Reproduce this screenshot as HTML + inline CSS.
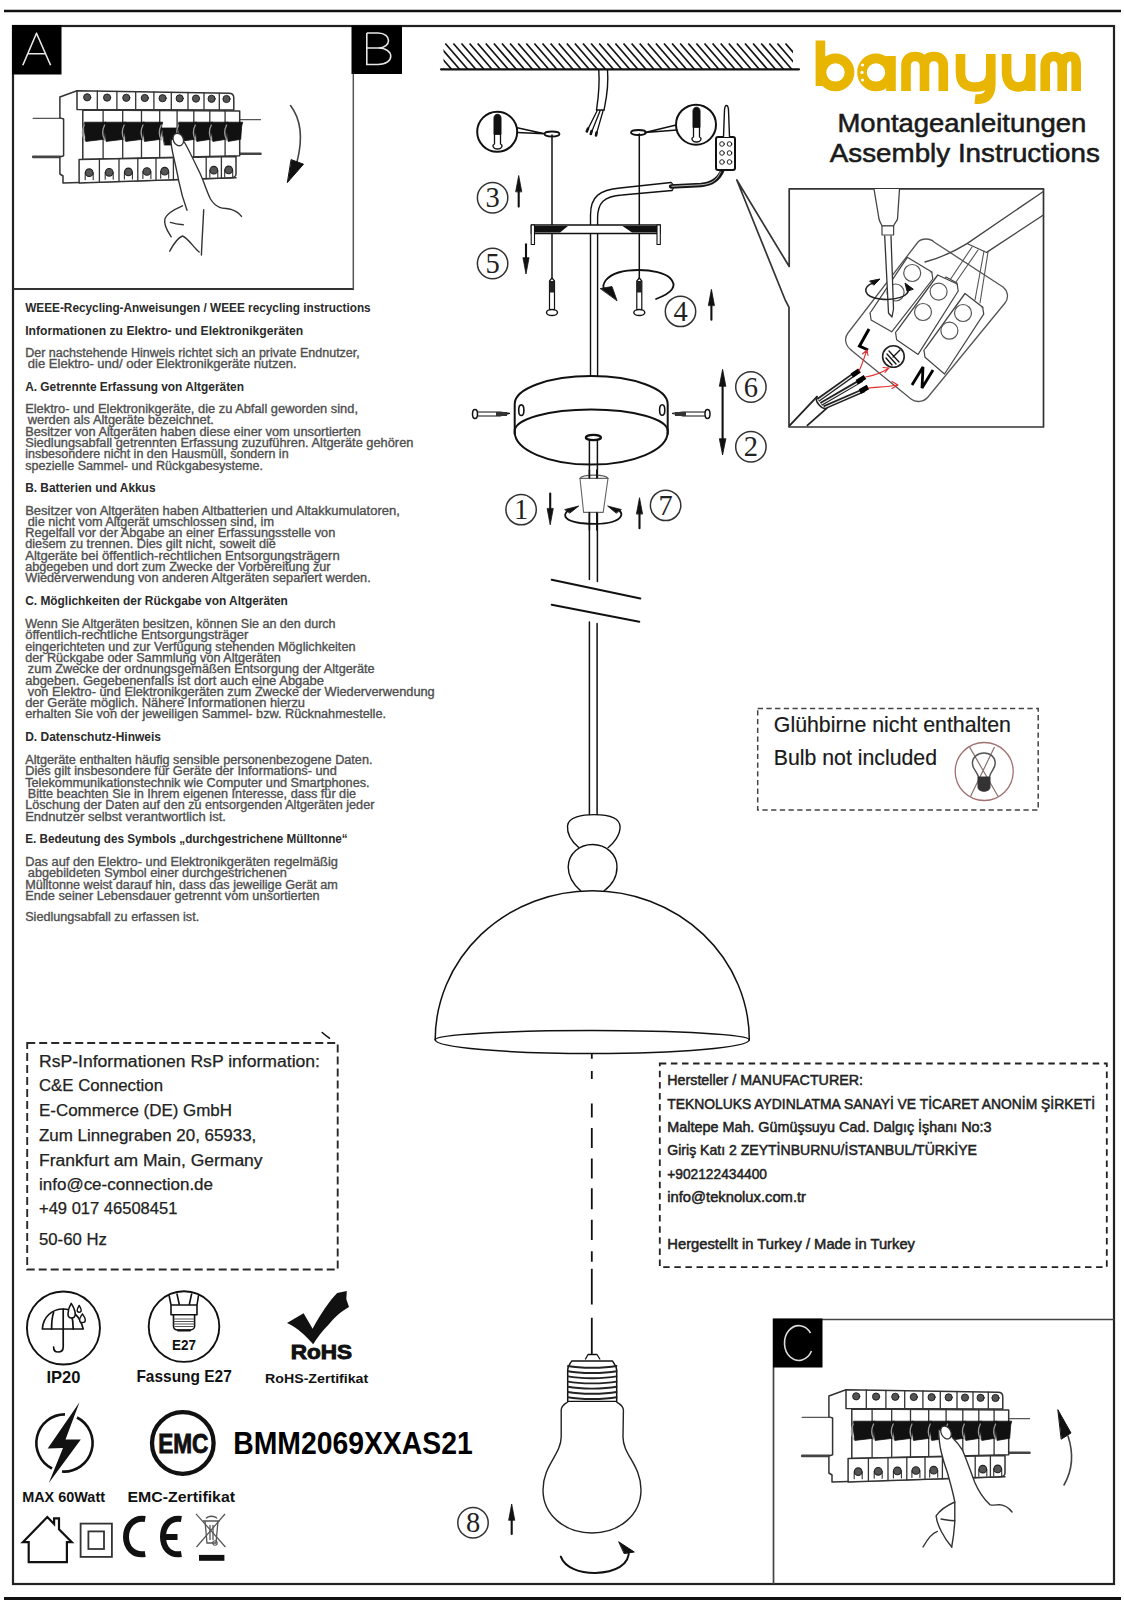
<!DOCTYPE html>
<html><head><meta charset="utf-8">
<style>
html,body{margin:0;padding:0;background:#fff;}
body{width:1124px;height:1600px;overflow:hidden;}
svg{display:block;}
</style></head><body>
<svg width="1124" height="1600" viewBox="0 0 1124 1600" font-family="'Liberation Sans', sans-serif">
<rect x="0" y="0" width="1124" height="1600" fill="#fff"/>
<!-- page lines -->
<line x1="4" y1="11" x2="1121" y2="11" stroke="#111" stroke-width="2.6"/>
<line x1="4" y1="1598.8" x2="1121" y2="1598.8" stroke="#111" stroke-width="3.6"/>
<!-- frame -->
<rect x="13" y="26" width="1101" height="1558" fill="none" stroke="#222" stroke-width="2.2"/>
<!-- box A -->
<polyline points="13,289 354,289" fill="none" stroke="#333" stroke-width="2"/><line x1="353.3" y1="74" x2="353.3" y2="289" stroke="#555" stroke-width="1.5"/>
<!-- box C -->
<polyline points="773.5,1584 773.5,1319.5 1114,1319.5" fill="none" stroke="#444" stroke-width="1.7"/>
<!-- labels -->
<g id="labels">
<rect x="12" y="25" width="49.5" height="49.5" fill="#000"/>
<path d="M22.8,65.2 L36.5,33.2 L50.6,65.2 M27.7,53.8 L45.6,53.8" fill="none" stroke="#e6e6e6" stroke-width="1.6" stroke-linejoin="round"/>
<rect x="351.5" y="25.5" width="50.5" height="48.5" fill="#000"/>
<path d="M366.8,33 L366.8,64.5 L378,64.5 C395,64.5 395,48 378,48 L366.8,48 M378,48 C392,48 392,33 378,33 L366.8,33" fill="none" stroke="#e6e6e6" stroke-width="1.6"/>
<rect x="773" y="1318.5" width="49.5" height="49" fill="#000"/>
<path d="M810.5,1333 A14.3,17.4 0 1 0 811.5,1351" fill="none" stroke="#ddd" stroke-width="1.6"/>
</g>
<g id="weee" font-size="12" fill="#505050" stroke="#505050" stroke-width="0.35">
<text x="25.2" y="311.5" textLength="345.5" lengthAdjust="spacingAndGlyphs" font-weight="bold" fill="#2a2a2a" stroke="none">WEEE-Recycling-Anweisungen / WEEE recycling instructions</text>
<text x="25.2" y="334.5" textLength="278.0" lengthAdjust="spacingAndGlyphs" font-weight="bold" fill="#2a2a2a" stroke="none">Informationen zu Elektro- und Elektronikgeräten</text>
<text x="25.2" y="357" textLength="334.6" lengthAdjust="spacingAndGlyphs">Der nachstehende Hinweis richtet sich an private Endnutzer,</text>
<text x="27.8" y="368" textLength="268.8" lengthAdjust="spacingAndGlyphs">die Elektro- und/ oder Elektronikgeräte nutzen.</text>
<text x="25.2" y="390.5" textLength="218.8" lengthAdjust="spacingAndGlyphs" font-weight="bold" fill="#2a2a2a" stroke="none">A. Getrennte Erfassung von Altgeräten</text>
<text x="25.2" y="413" textLength="332.8" lengthAdjust="spacingAndGlyphs">Elektro- und Elektronikgeräte, die zu Abfall geworden sind,</text>
<text x="27.8" y="424.3" textLength="186.0" lengthAdjust="spacingAndGlyphs">werden als Altgeräte bezeichnet.</text>
<text x="25.2" y="435.6" textLength="335.7" lengthAdjust="spacingAndGlyphs">Besitzer von Altgeräten haben diese einer vom unsortierten</text>
<text x="25.2" y="446.9" textLength="388.2" lengthAdjust="spacingAndGlyphs">Siedlungsabfall getrennten Erfassung zuzuführen. Altgeräte gehören</text>
<text x="25.2" y="458.2" textLength="263.4" lengthAdjust="spacingAndGlyphs">insbesondere nicht in den Hausmüll, sondern in</text>
<text x="25.2" y="469.5" textLength="237.8" lengthAdjust="spacingAndGlyphs">spezielle Sammel- und Rückgabesysteme.</text>
<text x="25.2" y="491.5" textLength="130.3" lengthAdjust="spacingAndGlyphs" font-weight="bold" fill="#2a2a2a" stroke="none">B. Batterien und Akkus</text>
<text x="25.2" y="514.5" textLength="374.7" lengthAdjust="spacingAndGlyphs">Besitzer von Altgeräten haben Altbatterien und Altakkumulatoren,</text>
<text x="27.8" y="525.8" textLength="246.2" lengthAdjust="spacingAndGlyphs">die nicht vom Altgerät umschlossen sind, im</text>
<text x="25.2" y="537.1" textLength="310.1" lengthAdjust="spacingAndGlyphs">Regelfall vor der Abgabe an einer Erfassungsstelle von</text>
<text x="25.2" y="548.4" textLength="250.7" lengthAdjust="spacingAndGlyphs">diesem zu trennen. Dies gilt nicht, soweit die</text>
<text x="25.2" y="559.7" textLength="314.5" lengthAdjust="spacingAndGlyphs">Altgeräte bei öffentlich-rechtlichen Entsorgungsträgern</text>
<text x="25.2" y="571" textLength="305.4" lengthAdjust="spacingAndGlyphs">abgegeben und dort zum Zwecke der Vorbereitung zur</text>
<text x="25.2" y="582.3" textLength="345.5" lengthAdjust="spacingAndGlyphs">Wiederverwendung von anderen Altgeräten separiert werden.</text>
<text x="25.2" y="605" textLength="262.7" lengthAdjust="spacingAndGlyphs" font-weight="bold" fill="#2a2a2a" stroke="none">C. Möglichkeiten der Rückgabe von Altgeräten</text>
<text x="25.2" y="628" textLength="310.4" lengthAdjust="spacingAndGlyphs">Wenn Sie Altgeräten besitzen, können Sie an den durch</text>
<text x="25.2" y="639.3" textLength="223.2" lengthAdjust="spacingAndGlyphs">öffentlich-rechtliche Entsorgungsträger</text>
<text x="25.2" y="650.6" textLength="330.3" lengthAdjust="spacingAndGlyphs">eingerichteten und zur Verfügung stehenden Möglichkeiten</text>
<text x="25.2" y="661.9" textLength="255.7" lengthAdjust="spacingAndGlyphs">der Rückgabe oder Sammlung von Altgeräten</text>
<text x="27.8" y="673.2" textLength="346.8" lengthAdjust="spacingAndGlyphs">zum Zwecke der ordnungsgemäßen Entsorgung der Altgeräte</text>
<text x="25.2" y="684.5" textLength="298.8" lengthAdjust="spacingAndGlyphs">abgeben. Gegebenenfalls ist dort auch eine Abgabe</text>
<text x="27.8" y="695.8" textLength="406.9" lengthAdjust="spacingAndGlyphs">von Elektro- und Elektronikgeräten zum Zwecke der Wiederverwendung</text>
<text x="25.2" y="707.1" textLength="279.8" lengthAdjust="spacingAndGlyphs">der Geräte möglich. Nähere Informationen hierzu</text>
<text x="25.2" y="718.4" textLength="360.8" lengthAdjust="spacingAndGlyphs">erhalten Sie von der jeweiligen Sammel- bzw. Rücknahmestelle.</text>
<text x="25.2" y="741" textLength="135.8" lengthAdjust="spacingAndGlyphs" font-weight="bold" fill="#2a2a2a" stroke="none">D. Datenschutz-Hinweis</text>
<text x="25.2" y="764" textLength="347.3" lengthAdjust="spacingAndGlyphs">Altgeräte enthalten häufig sensible personenbezogene Daten.</text>
<text x="25.2" y="775.3" textLength="311.6" lengthAdjust="spacingAndGlyphs">Dies gilt insbesondere für Geräte der Informations- und</text>
<text x="25.2" y="786.6" textLength="344.4" lengthAdjust="spacingAndGlyphs">Telekommunikationstechnik wie Computer und Smartphones.</text>
<text x="27.8" y="797.9" textLength="328.2" lengthAdjust="spacingAndGlyphs">Bitte beachten Sie in Ihrem eigenen Interesse, dass für die</text>
<text x="25.2" y="809.2" textLength="349.2" lengthAdjust="spacingAndGlyphs">Löschung der Daten auf den zu entsorgenden Altgeräten jeder</text>
<text x="25.2" y="820.5" textLength="200.7" lengthAdjust="spacingAndGlyphs">Endnutzer selbst verantwortlich ist.</text>
<text x="25.2" y="843" textLength="322.5" lengthAdjust="spacingAndGlyphs" font-weight="bold" fill="#2a2a2a" stroke="none">E. Bedeutung des Symbols „durchgestrichene Mülltonne“</text>
<text x="25.2" y="866" textLength="312.7" lengthAdjust="spacingAndGlyphs">Das auf den Elektro- und Elektronikgeräten regelmäßig</text>
<text x="27.8" y="877.3" textLength="259.0" lengthAdjust="spacingAndGlyphs">abgebildeten Symbol einer durchgestrichenen</text>
<text x="25.2" y="888.6" textLength="312.7" lengthAdjust="spacingAndGlyphs">Mülltonne weist darauf hin, dass das jeweilige Gerät am</text>
<text x="25.2" y="899.9" textLength="294.4" lengthAdjust="spacingAndGlyphs">Ende seiner Lebensdauer getrennt vom unsortierten</text>
<text x="25.2" y="921" textLength="174.0" lengthAdjust="spacingAndGlyphs">Siedlungsabfall zu erfassen ist.</text>
</g><g id="title" fill="#1a1a1a" stroke="#1a1a1a" stroke-width="0.55">
<text x="837.5" y="132.1" font-size="26.5" textLength="248.8" lengthAdjust="spacingAndGlyphs">Montageanleitungen</text>
<text x="829.8" y="161.8" font-size="26.5" textLength="270.1" lengthAdjust="spacingAndGlyphs">Assembly Instructions</text>
</g>
<rect x="27.2" y="1043" width="310.5" height="226.5" fill="none" stroke="#2a2a2a" stroke-width="1.9" stroke-dasharray="8 4"/>
<g id="rsp" font-size="16" fill="#222" stroke="#222" stroke-width="0.25">
<text x="39" y="1066.5" textLength="281.0" lengthAdjust="spacingAndGlyphs">RsP-Informationen RsP information:</text>
<text x="39" y="1091" textLength="124.0" lengthAdjust="spacingAndGlyphs">C&amp;E Connection</text>
<text x="39" y="1115.5" textLength="193.0" lengthAdjust="spacingAndGlyphs">E-Commerce (DE) GmbH</text>
<text x="39" y="1141.2" textLength="217.3" lengthAdjust="spacingAndGlyphs">Zum Linnegraben 20, 65933,</text>
<text x="39" y="1165.5" textLength="223.6" lengthAdjust="spacingAndGlyphs">Frankfurt am Main, Germany</text>
<text x="39" y="1189.8" textLength="174.0" lengthAdjust="spacingAndGlyphs">info@ce-connection.de</text>
<text x="39" y="1214" textLength="138.4" lengthAdjust="spacingAndGlyphs">+49 017 46508451</text>
<text x="39" y="1244.7" textLength="67.8" lengthAdjust="spacingAndGlyphs">50-60 Hz</text>
</g>
<rect x="757.7" y="708.5" width="280.5" height="101.5" fill="none" stroke="#444" stroke-width="1.5" stroke-dasharray="5.3 3.4"/>
<g id="bulbtxt" font-size="21.5" fill="#1a1a1a" stroke="#1a1a1a" stroke-width="0.2">
<text x="773.8" y="731.5" textLength="237.2" lengthAdjust="spacingAndGlyphs">Glühbirne nicht enthalten</text>
<text x="773.8" y="765.4" textLength="163.2" lengthAdjust="spacingAndGlyphs">Bulb not included</text>
</g>
<rect x="659.8" y="1063.5" width="447" height="203.7" fill="none" stroke="#222" stroke-width="1.8" stroke-dasharray="6.5 4.6"/>
<g id="her" font-size="14.5" fill="#222" stroke="#222" stroke-width="0.5">
<text x="667.3" y="1085" textLength="195.7" lengthAdjust="spacingAndGlyphs">Hersteller / MANUFACTURER:</text>
<text x="667.3" y="1108.8" textLength="427.7" lengthAdjust="spacingAndGlyphs">TEKNOLUKS AYDINLATMA SANAYİ VE TİCARET ANONİM ŞİRKETİ</text>
<text x="667.3" y="1132" textLength="324.3" lengthAdjust="spacingAndGlyphs">Maltepe Mah. Gümüşsuyu Cad. Dalgıç İşhanı No:3</text>
<text x="667.3" y="1155.3" textLength="309.7" lengthAdjust="spacingAndGlyphs">Giriş Katı 2 ZEYTİNBURNU/İSTANBUL/TÜRKİYE</text>
<text x="667.3" y="1178.6" textLength="99.7" lengthAdjust="spacingAndGlyphs">+902122434400</text>
<text x="667.3" y="1202" textLength="138.7" lengthAdjust="spacingAndGlyphs">info@teknolux.com.tr</text>
<text x="667.3" y="1248.8" textLength="247.7" lengthAdjust="spacingAndGlyphs">Hergestellt in Turkey / Made in Turkey</text>
</g>
<text x="233.2" y="1454.4" font-size="31.5" font-weight="bold" fill="#000" textLength="239.5" lengthAdjust="spacingAndGlyphs">BMM2069XXAS21</text>
<path d="M322.2,1032.5 C325,1035 327,1036.5 329.4,1038.2" fill="none" stroke="#111" stroke-width="1.6" stroke-linecap="round"/>
<g id="lamp" fill="none" stroke="#111" stroke-linecap="round" stroke-linejoin="round">
<clipPath id="hc"><rect x="443.5" y="42" width="349.5" height="27.3"/></clipPath>
<path clip-path="url(#hc)" d="M421.0,43.5 L443.4,69.3 M429.1,43.5 L451.5,69.3 M437.2,43.5 L459.6,69.3 M445.3,43.5 L467.7,69.3 M453.4,43.5 L475.8,69.3 M461.5,43.5 L483.9,69.3 M469.6,43.5 L492.0,69.3 M477.7,43.5 L500.1,69.3 M485.8,43.5 L508.2,69.3 M493.9,43.5 L516.3,69.3 M502.0,43.5 L524.4,69.3 M510.1,43.5 L532.5,69.3 M518.2,43.5 L540.6,69.3 M526.3,43.5 L548.7,69.3 M534.4,43.5 L556.8,69.3 M542.5,43.5 L564.9,69.3 M550.6,43.5 L573.0,69.3 M558.7,43.5 L581.1,69.3 M566.8,43.5 L589.2,69.3 M574.9,43.5 L597.3,69.3 M583.0,43.5 L605.4,69.3 M591.1,43.5 L613.5,69.3 M599.2,43.5 L621.6,69.3 M607.3,43.5 L629.7,69.3 M615.4,43.5 L637.8,69.3 M623.5,43.5 L645.9,69.3 M631.6,43.5 L654.0,69.3 M639.7,43.5 L662.1,69.3 M647.8,43.5 L670.2,69.3 M655.9,43.5 L678.3,69.3 M664.0,43.5 L686.4,69.3 M672.1,43.5 L694.5,69.3 M680.2,43.5 L702.6,69.3 M688.3,43.5 L710.7,69.3 M696.4,43.5 L718.8,69.3 M704.5,43.5 L726.9,69.3 M712.6,43.5 L735.0,69.3 M720.7,43.5 L743.1,69.3 M728.8,43.5 L751.2,69.3 M736.9,43.5 L759.3,69.3 M745.0,43.5 L767.4,69.3 M753.1,43.5 L775.5,69.3 M761.2,43.5 L783.6,69.3 M769.3,43.5 L791.7,69.3 M777.4,43.5 L799.8,69.3 M785.5,43.5 L807.9,69.3 M793.6,43.5 L816.0,69.3" stroke-width="1.75" stroke="#151515" stroke-linecap="butt"/>
<line x1="441" y1="69.3" x2="799" y2="69.3" stroke-width="2.2"/>
<path d="M598.8,70 C600,88 598,100 596.5,110 M607.5,70 C609,88 606,100 604,110" stroke-width="1.4"/>
<path d="M596.5,110 L604,110 M597,111 L586.8,131.4 M600,111 L590.8,134 M603,111 L596,135.4" stroke-width="1.3"/>
<path d="M588,128.5 L586.8,131.4 M591.6,131 L590.8,134 M596.6,132.5 L596,135.4" stroke-width="2.6"/>
<circle cx="497.2" cy="131.8" r="20" stroke-width="2"/>
<path d="M517.2,127.8 L544.5,133.8 L517.2,132.6" stroke-width="1.5"/>
<path d="M494,134 L494,118 C494,113 501,113 501,118 L501,134 Z" fill="#111" stroke-width="1"/>
<path d="M494.5,134 L494.5,144 C492,145 492.5,149 497.5,149 C502.5,149 503,145 500.5,144 L500.5,134" stroke-width="1.3"/>
<ellipse cx="552" cy="134" rx="7.5" ry="2.5" stroke-width="1.8"/>
<line x1="552" y1="135" x2="552" y2="281" stroke-width="1.5"/>
<circle cx="696" cy="124.7" r="20" stroke-width="2"/>
<path d="M676.2,125 L645,132.5 L677,130" stroke-width="1.5"/>
<path d="M693,127 L693,111 C693,106 700,106 700,111 L700,127 Z" fill="#111" stroke-width="1"/>
<path d="M693.5,127 L693.5,137 C691,138 691.5,142 696.5,142 C701.5,142 702,138 699.5,137 L699.5,127" stroke-width="1.3"/>
<ellipse cx="638.5" cy="132.5" rx="7.5" ry="2.5" stroke-width="1.8"/>
<line x1="639.3" y1="134" x2="639.3" y2="281" stroke-width="1.5"/>
<path d="M590.5,376 L590.5,215 C590.5,196 600,190 620,188 L671,182.5" stroke-width="1.4"/>
<path d="M597.6,376 L597.6,218 C597.6,203 604,196 622,195 L672,190.5" stroke-width="1.4"/>
<path d="M671,182.5 C674,184 674,189 672,190.5" stroke-width="1.2"/>
<path d="M671,186.5 L701,185 C713,184 719,179 722.5,170" stroke-width="4.4" stroke="#151515"/><path d="M672,186.3 L701,184.8 C712,184 717,180 720.5,172" stroke-width="0.9" stroke="#ccc"/>
<rect x="716" y="137" width="19" height="33" rx="2" fill="#fff" stroke-width="2"/>
<circle cx="722" cy="144" r="2.3" stroke-width="0.9"/>
<circle cx="729.5" cy="144" r="2.3" stroke-width="0.9"/>
<circle cx="722" cy="153" r="2.3" stroke-width="0.9"/>
<circle cx="729.5" cy="153" r="2.3" stroke-width="0.9"/>
<circle cx="722" cy="162" r="2.3" stroke-width="0.9"/>
<circle cx="729.5" cy="162" r="2.3" stroke-width="0.9"/>
<path d="M723.5,137 L724.5,110 C725,104 728,104 728.5,110 L729.5,137" fill="#fff" stroke-width="1.4"/>
<rect x="531.4" y="225" width="128.8" height="8.5" fill="#fff" stroke-width="1.6"/>
<path d="M534,226 L568,226 L560,232.5 L534,232.5 Z M657.5,226 L622.5,226 L632,232.5 L657.5,232.5 Z" fill="#111" stroke="none"/>
<rect x="531.2" y="225" width="3.3" height="19.5" fill="#fff" stroke-width="1.1"/>
<rect x="657" y="225" width="3.3" height="19.5" fill="#fff" stroke-width="1.1"/>
<path d="M549.5,309.5 L549.5,281 L552,278 L554.5,281 L554.5,309.5" fill="#fff" stroke-width="1.2"/>
<rect x="549.5" y="281" width="5" height="11.5" fill="#222" stroke="none"/>
<ellipse cx="552" cy="312.5" rx="5.5" ry="3" fill="#fff" stroke-width="1.4"/>
<path d="M636.8,309.5 L636.8,281 L639.3,278 L641.8,281 L641.8,309.5" fill="#fff" stroke-width="1.2"/>
<rect x="636.8" y="281" width="5" height="11.5" fill="#222" stroke="none"/>
<ellipse cx="639.3" cy="312.5" rx="5.5" ry="3" fill="#fff" stroke-width="1.4"/>
<path d="M656,299 C672,293 678,286 670,278 C660,268 618,266 606,280 C603,284 603,287 604,289" stroke-width="1.8"/>
<path d="M600.5,288.5 L612,286.5 L617,300.5 Z" fill="#111" stroke-width="0.8"/>
<line x1="518.7" y1="190.5" x2="518.7" y2="206.6" stroke-width="2.1"/><path d="M515.7,191.5 L518.7,175.5 L521.7,191.5 Z" fill="#111" stroke-width="0.8"/>
<line x1="526" y1="244.4" x2="526" y2="259" stroke-width="2.1"/><path d="M523,258 L526,274 L529,258 Z" fill="#111" stroke-width="0.8"/>
<line x1="711.4" y1="304.3" x2="711.4" y2="319.8" stroke-width="2.1"/><path d="M708.4,305.3 L711.4,289.3 L714.4,305.3 Z" fill="#111" stroke-width="0.8"/>
<line x1="550.2" y1="493.5" x2="550.2" y2="509.79999999999995" stroke-width="2.1"/><path d="M547.2,508.79999999999995 L550.2,524.8 L553.2,508.79999999999995 Z" fill="#111" stroke-width="0.8"/>
<line x1="639.5" y1="512.7" x2="639.5" y2="528.2" stroke-width="2.1"/><path d="M636.5,513.7 L639.5,497.7 L642.5,513.7 Z" fill="#111" stroke-width="0.8"/>
<line x1="511.7" y1="1519" x2="511.7" y2="1534" stroke-width="2.1"/><path d="M508.7,1520 L511.7,1504 L514.7,1520 Z" fill="#111" stroke-width="0.8"/>
<line x1="722.6" y1="384" x2="722.6" y2="441" stroke-width="2.1"/><path d="M719.4,386 L722.6,369.3 L725.8,386 Z M719.4,439 L722.6,455 L725.8,439 Z" fill="#111" stroke-width="0.8"/>
<circle cx="492.6" cy="197.7" r="15.2" stroke-width="1.5" stroke="#333"/>
<text x="492.6" y="207.29999999999998" font-family="'Liberation Serif', serif" font-size="28.5" text-anchor="middle" fill="#222" stroke="none">3</text>
<circle cx="492.6" cy="263.5" r="15.2" stroke-width="1.5" stroke="#333"/>
<text x="492.6" y="273.1" font-family="'Liberation Serif', serif" font-size="28.5" text-anchor="middle" fill="#222" stroke="none">5</text>
<circle cx="680.5" cy="311.4" r="15.2" stroke-width="1.5" stroke="#333"/>
<text x="680.5" y="321.0" font-family="'Liberation Serif', serif" font-size="28.5" text-anchor="middle" fill="#222" stroke="none">4</text>
<circle cx="750.9" cy="387" r="15.2" stroke-width="1.5" stroke="#333"/>
<text x="750.9" y="396.6" font-family="'Liberation Serif', serif" font-size="28.5" text-anchor="middle" fill="#222" stroke="none">6</text>
<circle cx="750.9" cy="446.8" r="15.2" stroke-width="1.5" stroke="#333"/>
<text x="750.9" y="456.40000000000003" font-family="'Liberation Serif', serif" font-size="28.5" text-anchor="middle" fill="#222" stroke="none">2</text>
<circle cx="521.1" cy="509.6" r="15.2" stroke-width="1.5" stroke="#333"/>
<text x="521.1" y="519.2" font-family="'Liberation Serif', serif" font-size="28.5" text-anchor="middle" fill="#222" stroke="none">1</text>
<circle cx="665.6" cy="505.4" r="15.2" stroke-width="1.5" stroke="#333"/>
<text x="665.6" y="515.0" font-family="'Liberation Serif', serif" font-size="28.5" text-anchor="middle" fill="#222" stroke="none">7</text>
<circle cx="473" cy="1522.8" r="15.2" stroke-width="1.5" stroke="#333"/>
<text x="473" y="1532.3999999999999" font-family="'Liberation Serif', serif" font-size="28.5" text-anchor="middle" fill="#222" stroke="none">8</text>
</g>
<g id="lamp2" fill="none" stroke="#111" stroke-linecap="round" stroke-linejoin="round">
<path d="M514.7,434 L514.7,404 A76.5,28 0 0 1 667.7,404 L667.7,434" fill="#fff" stroke-width="2"/>
<path d="M514.7,431 A76.5,21.6 0 0 1 667.7,431" stroke-width="2"/>
<path d="M514.7,432 A76.5,32.6 0 0 0 667.7,432" stroke-width="2"/>
<ellipse cx="521.3" cy="410.2" rx="2.6" ry="5.3" stroke-width="1.6"/>
<ellipse cx="662.2" cy="410" rx="2.6" ry="5.3" stroke-width="1.6"/>
<path d="M477,412 L500,412 L509.5,413.3 L500,416 L477,416" fill="#fff" stroke-width="1.2"/>
<rect x="496" y="412" width="11" height="4" fill="#333" stroke="none"/>
<ellipse cx="475" cy="414" rx="2.5" ry="4.5" fill="#fff" stroke-width="1.5"/>
<path d="M706,412 L683,412 L672.5,413.3 L683,416 L706,416" fill="#fff" stroke-width="1.2"/>
<rect x="675" y="412" width="11" height="4" fill="#333" stroke="none"/>
<ellipse cx="707.5" cy="414" rx="2.5" ry="4.5" fill="#fff" stroke-width="1.5"/>
<path d="M589.4,437 L589.4,579.5 M597.4,437 L597.4,581.5" stroke-width="1.5"/>
<ellipse cx="593.4" cy="437.5" rx="7.5" ry="2.6" fill="#fff" stroke-width="2.4"/>
<path d="M580,478.4 L583.6,512.4 L603.2,512.4 L608,478.4 Z" fill="#fff" stroke="#666" stroke-width="1.1"/>
<path d="M580,478.4 C582,474 606,474 608,478.4" stroke="#555" stroke-width="1.1"/>
<path d="M589.4,478 L589.4,470 M596.8,478 L596.8,470" stroke-width="1.5"/>
<path d="M589.4,512.5 L589.4,530 M596.8,512.5 L596.8,530" stroke-width="1.5"/>
<path d="M567.5,511 C562,516 566,521 580,523 C590,524 605,524 612,522 C622,519 623,514 619.5,510.5" stroke-width="1.8"/>
<path d="M565,509.5 L578.8,506 L570,513 Z M621,509.5 L607.6,506 L616,513 Z" fill="#111" stroke-width="0.8"/>
<path d="M551.7,579.8 L640.4,598.6 M551.7,604.8 L639.3,621.7" stroke-width="2"/>
<path d="M589.4,622 L589.4,814.6 M597.1,623.5 L597.1,814.6" stroke-width="1.5"/>
<path d="M578.5,847.3 C570,840 567,833 567.5,826 C568,817 583,814.6 594,814.6 C606,814.6 620,817 620.1,827 C620,835 614,843 608,847.7" stroke-width="1.4"/>
<path d="M580.6,890.7 C573,884 568.2,876 568.2,867 C568.5,853 580,844.5 592.5,844.5 C606,844.5 617,854 617,867 C617,877 612,885 604.1,890.7" stroke-width="1.4"/>
<path d="M435.2,1039.8 A157,149 0 0 1 749.3,1039.8" stroke-width="1.5"/>
<path d="M435.2,1039.8 A157,9.2 0 0 1 749.3,1039.8" stroke-width="1.5"/>
<path d="M435.2,1039.8 A157,13.8 0 0 0 749.3,1039.8" stroke-width="1.5"/>
<path d="M591.8,1053.5 L591.8,1058.8 M591.8,1071 L591.8,1078.9 M591.8,1103.4 L591.8,1117.4 M591.8,1127.9 L591.8,1148 M591.8,1158.5 L591.8,1178.6 M591.8,1188.3 L591.8,1209.3 M591.8,1219.8 L591.8,1239.9 M591.8,1251.3 L591.8,1261.8 M591.8,1268.8 L591.8,1304.6 M591.8,1317.8 L591.8,1354" stroke-width="1.8" stroke-linecap="butt"/>
<path d="M585.5,1359 L588,1354.5 L597,1354.5 L599.8,1359" fill="#fff" stroke-width="1.3"/>
<path d="M571.7,1361 L612.5,1361 C614,1364 616.7,1366 616.7,1370 L616.7,1401.5 L567.7,1401.5 L567.7,1370 C567.7,1366 570,1364 571.7,1361 Z" fill="#fff" stroke-width="1.5"/>
<path d="M568,1366.0 C580,1368.4 604,1368.4 616.5,1366.0 M568,1371.2 C580,1373.6 604,1373.6 616.5,1371.2 M568,1376.4 C580,1378.8 604,1378.8 616.5,1376.4 M568,1381.6 C580,1384.0 604,1384.0 616.5,1381.6 M568,1386.8 C580,1389.2 604,1389.2 616.5,1386.8 M568,1392.0 C580,1394.4 604,1394.4 616.5,1392.0 M568,1397.2 C580,1399.6 604,1399.6 616.5,1397.2" stroke-width="1.9" stroke="#222"/>
<path d="M567.7,1402 C565,1404 561.5,1405 561.2,1410 L561.2,1437 C561,1455 543,1465 543,1490 C543,1515 565,1533 592,1533 C619,1533 641,1515 641,1490 C641,1465 623,1455 623,1437 L623.4,1410 C623,1405 619,1404 616.7,1402" fill="#fff" stroke-width="1.4" stroke="#222"/>
<path d="M560.8,1556.6 C565,1568 580,1573 595.3,1572.9 C615,1572.5 630,1565 628.8,1550" stroke-width="2"/>
<path d="M619,1542 L634.3,1552 L624.5,1553.5 Z" fill="#111" stroke-width="1"/>
</g>
<g id="conn" fill="none" stroke="#222" stroke-linecap="round" stroke-linejoin="round">
<path d="M789,307.3 L789,427 L1043.5,427 L1043.5,188.8 L789.2,188.8 L789.2,266.5 L736.8,180 L784.9,299.3 L789,307.3" stroke="#333" stroke-width="1.7"/>
<path d="M918,242 C922,238 930,238 934,242 L1003,287 C1008,291 1009,298 1005,303 L928,397 C924,402 916,403 911,399 L851,350 C845,345 844,338 848,333 Z" fill="#fff" stroke="#555" stroke-width="1.3"/>
<path d="M1043,191.7 L967,243.6 C955,251 940,258 925,262 M1043,215.2 L986.6,252.4" stroke="#444" stroke-width="1.3"/>
<path d="M967,243.6 L986.6,252.4" stroke="#444" stroke-width="1.1"/>
<path d="M972,247 L950,280 M978,250 L956,282 M984,251 L975,300 M988,252 L980,303" stroke="#555" stroke-width="1.1"/>
<path d="M946,277 L957,283 L953,289 L942,283 Z" fill="#fff" stroke="#444" stroke-width="1.1"/>
<polygon points="907.3,257.3 931.8,272 890.7,324.8 870.1,313" fill="#fff" stroke="#444" stroke-width="1.3"/>
<path d="M870.1,313 L871.1,320 L891.7,331.8 L932.8,279 L931.8,272" fill="#fff" stroke="#444" stroke-width="1.2"/>
<polygon points="937.7,275 957.2,284 917.1,347.4 895.6,332.7" fill="#fff" stroke="#444" stroke-width="1.3"/>
<path d="M895.6,332.7 L896.6,339.7 L918.1,354.4 L958.2,291 L957.2,284" fill="#fff" stroke="#444" stroke-width="1.2"/>
<polygon points="965,293.5 982.7,307.2 943.5,367 924,350.3" fill="#fff" stroke="#444" stroke-width="1.3"/>
<path d="M924,350.3 L925,357.3 L944.5,374 L983.7,314.2 L982.7,307.2" fill="#fff" stroke="#444" stroke-width="1.2"/>
<circle cx="912.2" cy="273" r="8.5" fill="#fff" stroke="#555" stroke-width="1.2"/>
<circle cx="895.6" cy="292.5" r="8.5" fill="#fff" stroke="#555" stroke-width="1.2"/>
<circle cx="938.6" cy="291.6" r="8.5" fill="#fff" stroke="#555" stroke-width="1.2"/>
<circle cx="923" cy="312" r="8.5" fill="#fff" stroke="#555" stroke-width="1.2"/>
<circle cx="963" cy="313" r="8.5" fill="#fff" stroke="#555" stroke-width="1.2"/>
<circle cx="949.4" cy="330.7" r="8.5" fill="#fff" stroke="#555" stroke-width="1.2"/>
<path d="M874,189 L879,219 C880,223 882,225 882,226 L893.6,226 C894,224 897,221 897.5,219 L899.5,189" fill="#fff" stroke="#444" stroke-width="1.3"/>
<rect x="882" y="226" width="11.6" height="9" fill="#fff" stroke="#444" stroke-width="1.2"/>
<path d="M884.7,236 L888.5,313 L892,317 L893.5,309 L891,236" fill="#fff" stroke="#333" stroke-width="1.3"/>
<path d="M873,283 C862,287 863,297 880,299 C895,301 910,296 908,289" stroke="#222" stroke-width="1.5"/>
<path d="M870,281 L880,279 L874,285 Z M913,289 L905,283 L907,291 Z" fill="#111" stroke="#111" stroke-width="1"/>
<path d="M869,329 L859.5,346 L868,350" stroke="#000" stroke-width="3" stroke-linecap="butt" stroke-linejoin="miter"/>
<path d="M912,385 L923,367 L922,388 L933,370" stroke="#000" stroke-width="2.8" stroke-linecap="butt" stroke-linejoin="miter"/>
<circle cx="893.4" cy="356.5" r="10.8" fill="#fff" stroke="#222" stroke-width="1.6"/>
<path d="M900,350 L893,357 M889,351 L899,362 M887,354 L896,364 M886,358 L892,365" stroke="#111" stroke-width="1.3"/>
<path d="M789.8,425.4 L817,396.6 M807.4,425.4 L826.6,408.3" stroke="#222" stroke-width="1.8"/>
<path d="M817,396.6 C814,401 822,410 826.6,408.3" stroke="#222" stroke-width="1.6"/>
<path d="M818,400 L856,373 M821,404 L862,380 M824,407.5 L864.5,390" stroke="#222" stroke-width="4.2" stroke-linecap="butt"/>
<path d="M818.5,400 L852,376 M821.5,404 L857,383.5 M824.5,407.5 L860,392" stroke="#eee" stroke-width="1.3" stroke-linecap="butt"/>
<path d="M852,375.5 L859.5,370.5 M857,382 L865,377 M860,391.5 L868,387" stroke="#000" stroke-width="5" stroke-linecap="butt"/>
<path d="M859,371 C862,365 864,358 867,350 M865.5,377 C872,376 880,374 889,368 M868.5,388 C876,387 886,387 898,385 M867,350 L862.5,354 M867,350 L868,355.5 M889,368 L883,367.5 M889,368 L885,372.5 M898,385 L892,381.5 M898,385 L892,388.5" stroke="#e03030" stroke-width="1.1" fill="none"/>
</g>
<g transform="translate(0,0)" fill="none" stroke="#333" stroke-linejoin="round" stroke-linecap="round">
<path d="M33.2,118.4 L60,118.4 M240,119.7 L260.5,119.7" stroke="#555" stroke-width="1.3"/>
<path d="M33.2,156.9 L60,156.9 M240,153.7 L260.5,153.7" stroke="#444" stroke-width="2.6"/>
<path d="M77,90.7 L59.9,97 L59.9,117.9 L63.6,119 L63.6,155.8 L59.9,157 L59.9,174 L63,176 L63,183 L236,177.7" fill="#fff" stroke-width="1.5"/>
<path d="M77,90.7 L229,93.3 C232,93.3 233.8,95 233.8,98 L233.8,110 L77,109.4 Z" fill="#fff" stroke-width="1.5"/>
<path d="M97.3,91.0 L97.3,109.5 M116.9,91.4 L116.9,109.6 M135.7,91.7 L135.7,109.6 M153.9,92.0 L153.9,109.7 M171.3,92.3 L171.3,109.8 M188.0,92.5 L188.0,109.8 M204.0,92.8 L204.0,109.9 M219.3,93.1 L219.3,110.0" stroke-width="1.3"/>
<circle cx="87.2" cy="97.3" r="3.6" fill="#555" stroke="#222" stroke-width="1"/>
<circle cx="107.1" cy="97.6" r="3.6" fill="#555" stroke="#222" stroke-width="1"/>
<circle cx="126.3" cy="97.8" r="3.6" fill="#555" stroke="#222" stroke-width="1"/>
<circle cx="144.8" cy="98.0" r="3.6" fill="#555" stroke="#222" stroke-width="1"/>
<circle cx="162.6" cy="98.2" r="3.6" fill="#555" stroke="#222" stroke-width="1"/>
<circle cx="179.7" cy="98.4" r="3.6" fill="#555" stroke="#222" stroke-width="1"/>
<circle cx="196.0" cy="98.6" r="3.6" fill="#555" stroke="#222" stroke-width="1"/>
<circle cx="211.6" cy="98.8" r="3.6" fill="#555" stroke="#222" stroke-width="1"/>
<circle cx="226.5" cy="99.0" r="3.6" fill="#555" stroke="#222" stroke-width="1"/>
<path d="M82.8,110 L239.7,111 L239.7,155.8 L82.8,159.5 Z" fill="#fff" stroke-width="1.5"/>
<path d="M103.1,110.5 L103.1,159.0 M122.7,110.5 L122.7,158.5 M141.5,110.5 L141.5,158.1 M159.7,110.5 L159.7,157.7 M177.1,110.5 L177.1,157.2 M193.8,110.5 L193.8,156.8 M209.8,110.5 L209.8,156.5 M225.1,110.5 L225.1,156.1" stroke-width="1.3"/>
<path d="M84.8,122.2 L106.1,122.2 L105.1,126 L104.1,139.3 L85.8,141.4 L83.8,126 Z M105.1,122.2 L125.7,122.2 L124.7,126 L123.7,139.3 L106.1,141.4 L104.1,126 Z M124.7,122.2 L144.5,122.2 L143.5,126 L142.5,139.3 L125.7,141.4 L123.7,126 Z M143.5,122.2 L162.7,122.2 L161.7,126 L160.7,139.3 L144.5,141.4 L142.5,126 Z M161.7,128 L178.1,128 L177.1,145 L164.7,145 Z M179.1,122.2 L196.8,122.2 L195.8,126 L194.8,139.3 L180.1,141.4 L178.1,126 Z M195.8,122.2 L212.8,122.2 L211.8,126 L210.8,139.3 L196.8,141.4 L194.8,126 Z M211.8,122.2 L228.1,122.2 L227.1,126 L226.1,139.3 L212.8,141.4 L210.8,126 Z M227.1,122.2 L242.7,122.2 L241.7,126 L240.7,139.3 L228.1,141.4 L226.1,126 Z" fill="#111" stroke="#111" stroke-width="0.8"/>
<path d="M84.3,125 C81.8,130 81.8,135 84.3,140 M104.6,125 C102.1,130 102.1,135 104.6,140 M124.2,125 C121.7,130 121.7,135 124.2,140 M143.0,125 C140.5,130 140.5,135 143.0,140 M161.2,125 C158.7,130 158.7,135 161.2,140 M178.6,125 C176.1,130 176.1,135 178.6,140 M195.3,125 C192.8,130 192.8,135 195.3,140 M211.3,125 C208.8,130 208.8,135 211.3,140 M226.6,125 C224.1,130 224.1,135 226.6,140" stroke="#999" stroke-width="1.3"/>
<path d="M79.1,159.5 L236,156.5 L236,174 C236,176 234,177.7 231,177.7 L79.1,183 Z" fill="#fff" stroke-width="1.5"/>
<path d="M99.4,159.1 L99.4,182.3 M119.0,158.7 L119.0,181.6 M137.8,158.4 L137.8,181.0 M156.0,158.0 L156.0,180.4 M173.4,157.7 L173.4,179.8 M190.2,157.4 L190.2,179.2 M206.2,157.1 L206.2,178.7 M221.4,156.8 L221.4,178.2" stroke-width="1.3"/>
<path d="M85.2,179.7 L85.2,172.7 M93.2,179.7 L93.2,172.7" stroke-width="1.1"/>
<circle cx="89.2" cy="172.7" r="3.8" fill="#555" stroke="#222" stroke-width="1.1"/>
<path d="M105.2,179.3 L105.2,172.3 M113.2,179.3 L113.2,172.3" stroke-width="1.1"/>
<circle cx="109.2" cy="172.3" r="3.8" fill="#555" stroke="#222" stroke-width="1.1"/>
<path d="M124.4,178.9 L124.4,171.9 M132.4,178.9 L132.4,171.9" stroke-width="1.1"/>
<circle cx="128.4" cy="171.9" r="3.8" fill="#555" stroke="#222" stroke-width="1.1"/>
<path d="M142.9,178.5 L142.9,171.5 M150.9,178.5 L150.9,171.5" stroke-width="1.1"/>
<circle cx="146.9" cy="171.5" r="3.8" fill="#555" stroke="#222" stroke-width="1.1"/>
<path d="M160.7,178.2 L160.7,171.2 M168.7,178.2 L168.7,171.2" stroke-width="1.1"/>
<circle cx="164.7" cy="171.2" r="3.8" fill="#555" stroke="#222" stroke-width="1.1"/>
<path d="M209.8,177.2 L209.8,170.2 M217.8,177.2 L217.8,170.2" stroke-width="1.1"/>
<circle cx="213.8" cy="170.2" r="3.8" fill="#555" stroke="#222" stroke-width="1.1"/>
<path d="M224.7,176.9 L224.7,169.9 M232.7,176.9 L232.7,169.9" stroke-width="1.1"/>
<circle cx="228.7" cy="169.9" r="3.8" fill="#555" stroke="#222" stroke-width="1.1"/>
<path d="M171.2,139.8 C170,146 175,160 178.7,180.8 C181,192 184,202 187,210.3 L203.7,209.6 L219.6,207.3 C214,204 211,201 210.5,199 C205,185 199,170 191.6,154.7 C188,148 185,142 184.2,141 Z" fill="#fff" stroke="none"/>
<path d="M171.2,139.8 C170,146 175,160 178.7,180.8 C181,192 184,202 187,210.3" stroke-width="1.4"/>
<path d="M184.2,142 C188,148 196,165 200,173.3 C204,182 207,192 210.5,199 C213,203 216,206 219.6,207.3 C224,209 228,208 231.7,209.6 C236,211 239,213 241.5,216.4" stroke-width="1.4"/>
<ellipse cx="178.3" cy="139.5" rx="5" ry="6.5" transform="rotate(-25 178.3 139.5)" fill="#fff" stroke-width="1.3"/>
<path d="M182.5,205.8 C175,209 167,213 165,218.6 C163,225 168,232 171.2,236.8 M170.4,222.4 C175,224 180,224.5 183.3,224.7 M169.7,251.2 C173,245 177,238 182.5,236 C188,238 194,248 199.2,252 M203.7,209.6 C203,225 202,240 201.4,255" stroke-width="1.4"/>
<path d="M290.5,105.6 C300,118 304,135 297,162" stroke="#444" stroke-width="1.6"/>
<path d="M291.4,159.7 L303.5,164.2 L287.6,182.3 Z" fill="#111" stroke="#111" stroke-width="1"/>
</g>
<g transform="translate(769,1299)" fill="none" stroke="#333" stroke-linejoin="round" stroke-linecap="round">
<path d="M33.2,118.4 L60,118.4 M240,119.7 L260.5,119.7" stroke="#555" stroke-width="1.3"/>
<path d="M33.2,156.9 L60,156.9 M240,153.7 L260.5,153.7" stroke="#444" stroke-width="2.6"/>
<path d="M77,90.7 L59.9,97 L59.9,117.9 L63.6,119 L63.6,155.8 L59.9,157 L59.9,174 L63,176 L63,183 L236,177.7" fill="#fff" stroke-width="1.5"/>
<path d="M77,90.7 L229,93.3 C232,93.3 233.8,95 233.8,98 L233.8,110 L77,109.4 Z" fill="#fff" stroke-width="1.5"/>
<path d="M97.3,91.0 L97.3,109.5 M116.9,91.4 L116.9,109.6 M135.7,91.7 L135.7,109.6 M153.9,92.0 L153.9,109.7 M171.3,92.3 L171.3,109.8 M188.0,92.5 L188.0,109.8 M204.0,92.8 L204.0,109.9 M219.3,93.1 L219.3,110.0" stroke-width="1.3"/>
<circle cx="87.2" cy="97.3" r="3.6" fill="#555" stroke="#222" stroke-width="1"/>
<circle cx="107.1" cy="97.6" r="3.6" fill="#555" stroke="#222" stroke-width="1"/>
<circle cx="126.3" cy="97.8" r="3.6" fill="#555" stroke="#222" stroke-width="1"/>
<circle cx="144.8" cy="98.0" r="3.6" fill="#555" stroke="#222" stroke-width="1"/>
<circle cx="162.6" cy="98.2" r="3.6" fill="#555" stroke="#222" stroke-width="1"/>
<circle cx="179.7" cy="98.4" r="3.6" fill="#555" stroke="#222" stroke-width="1"/>
<circle cx="196.0" cy="98.6" r="3.6" fill="#555" stroke="#222" stroke-width="1"/>
<circle cx="211.6" cy="98.8" r="3.6" fill="#555" stroke="#222" stroke-width="1"/>
<circle cx="226.5" cy="99.0" r="3.6" fill="#555" stroke="#222" stroke-width="1"/>
<path d="M82.8,110 L239.7,111 L239.7,155.8 L82.8,159.5 Z" fill="#fff" stroke-width="1.5"/>
<path d="M103.1,110.5 L103.1,159.0 M122.7,110.5 L122.7,158.5 M141.5,110.5 L141.5,158.1 M159.7,110.5 L159.7,157.7 M177.1,110.5 L177.1,157.2 M193.8,110.5 L193.8,156.8 M209.8,110.5 L209.8,156.5 M225.1,110.5 L225.1,156.1" stroke-width="1.3"/>
<path d="M84.8,122.2 L106.1,122.2 L105.1,126 L104.1,139.3 L85.8,141.4 L83.8,126 Z M105.1,122.2 L125.7,122.2 L124.7,126 L123.7,139.3 L106.1,141.4 L104.1,126 Z M124.7,122.2 L144.5,122.2 L143.5,126 L142.5,139.3 L125.7,141.4 L123.7,126 Z M143.5,122.2 L162.7,122.2 L161.7,126 L160.7,139.3 L144.5,141.4 L142.5,126 Z M161.7,122.2 L180.1,122.2 L179.1,126 L178.1,139.3 L162.7,141.4 L160.7,126 Z M179.1,122.2 L196.8,122.2 L195.8,126 L194.8,139.3 L180.1,141.4 L178.1,126 Z M195.8,122.2 L212.8,122.2 L211.8,126 L210.8,139.3 L196.8,141.4 L194.8,126 Z M211.8,122.2 L228.1,122.2 L227.1,126 L226.1,139.3 L212.8,141.4 L210.8,126 Z M227.1,122.2 L242.7,122.2 L241.7,126 L240.7,139.3 L228.1,141.4 L226.1,126 Z" fill="#111" stroke="#111" stroke-width="0.8"/>
<path d="M84.3,125 C81.8,130 81.8,135 84.3,140 M104.6,125 C102.1,130 102.1,135 104.6,140 M124.2,125 C121.7,130 121.7,135 124.2,140 M143.0,125 C140.5,130 140.5,135 143.0,140 M161.2,125 C158.7,130 158.7,135 161.2,140 M178.6,125 C176.1,130 176.1,135 178.6,140 M195.3,125 C192.8,130 192.8,135 195.3,140 M211.3,125 C208.8,130 208.8,135 211.3,140 M226.6,125 C224.1,130 224.1,135 226.6,140" stroke="#999" stroke-width="1.3"/>
<path d="M79.1,159.5 L236,156.5 L236,174 C236,176 234,177.7 231,177.7 L79.1,183 Z" fill="#fff" stroke-width="1.5"/>
<path d="M99.4,159.1 L99.4,182.3 M119.0,158.7 L119.0,181.6 M137.8,158.4 L137.8,181.0 M156.0,158.0 L156.0,180.4 M173.4,157.7 L173.4,179.8 M190.2,157.4 L190.2,179.2 M206.2,157.1 L206.2,178.7 M221.4,156.8 L221.4,178.2" stroke-width="1.3"/>
<path d="M85.2,179.7 L85.2,172.7 M93.2,179.7 L93.2,172.7" stroke-width="1.1"/>
<circle cx="89.2" cy="172.7" r="3.8" fill="#555" stroke="#222" stroke-width="1.1"/>
<path d="M105.2,179.3 L105.2,172.3 M113.2,179.3 L113.2,172.3" stroke-width="1.1"/>
<circle cx="109.2" cy="172.3" r="3.8" fill="#555" stroke="#222" stroke-width="1.1"/>
<path d="M124.4,178.9 L124.4,171.9 M132.4,178.9 L132.4,171.9" stroke-width="1.1"/>
<circle cx="128.4" cy="171.9" r="3.8" fill="#555" stroke="#222" stroke-width="1.1"/>
<path d="M142.9,178.5 L142.9,171.5 M150.9,178.5 L150.9,171.5" stroke-width="1.1"/>
<circle cx="146.9" cy="171.5" r="3.8" fill="#555" stroke="#222" stroke-width="1.1"/>
<path d="M160.7,178.2 L160.7,171.2 M168.7,178.2 L168.7,171.2" stroke-width="1.1"/>
<circle cx="164.7" cy="171.2" r="3.8" fill="#555" stroke="#222" stroke-width="1.1"/>
<path d="M209.8,177.2 L209.8,170.2 M217.8,177.2 L217.8,170.2" stroke-width="1.1"/>
<circle cx="213.8" cy="170.2" r="3.8" fill="#555" stroke="#222" stroke-width="1.1"/>
<path d="M224.7,176.9 L224.7,169.9 M232.7,176.9 L232.7,169.9" stroke-width="1.1"/>
<circle cx="228.7" cy="169.9" r="3.8" fill="#555" stroke="#222" stroke-width="1.1"/>
<path d="M295,186 C303,172 305,155 299,137" stroke="#444" stroke-width="1.6"/>
<path d="M289,111 L302,134 L292.5,140 Z" fill="#111" stroke="#111" stroke-width="1"/>
</g>
<g fill="none" stroke="#333" stroke-linejoin="round" stroke-linecap="round">
<path d="M938.6,1430 C939,1440 940,1447 941,1451 C943,1460 945,1466 947.3,1472.3 C950,1482 953,1492 954.8,1502 L989.7,1504.6 C982,1497 978,1490 974.7,1482.2 C970,1470 966,1458 962.3,1449.8 C958,1443 955,1440 952.3,1437.4 Z" fill="#fff" stroke="none"/>
<path d="M938.6,1430 C939,1440 940,1447 941,1451 C943,1460 945,1466 947.3,1472.3 C950,1482 953,1492 954.8,1502 L954.8,1520 C954.5,1530 953,1540 951.7,1547" stroke-width="1.4"/>
<path d="M952.3,1437.4 C955,1440 958,1443 962.3,1449.8 C966,1458 970,1470 974.7,1482.2 C978,1490 982,1497 989.7,1504.6 C993,1506 996,1504.6 999.6,1504.6 C1005,1505 1009,1508 1012,1512" stroke-width="1.4"/>
<ellipse cx="946" cy="1432.5" rx="4.8" ry="6.8" transform="rotate(-28 946 1432.5)" fill="#fff" stroke-width="1.3"/>
<path d="M954.8,1502 C948,1505 940,1510 936.1,1515.9 C937,1525 944,1538 951.7,1547 M941.1,1519 C945,1520 950,1520.5 954.8,1520.8 M923,1547 C927,1540 932,1533 937.4,1531.4" stroke-width="1.4"/>
</g>
<g id="icons" fill="none" stroke="#111" stroke-linejoin="round" stroke-linecap="round">
<circle cx="63.45" cy="1328" r="36.5" stroke-width="1.9"/>
<path d="M42.4,1329 C43,1317 52,1309 63.2,1309 C72,1309 80,1316 83.2,1329 Z" stroke-width="1.7"/>
<path d="M53.6,1312.5 C52,1317 51.6,1323 51.6,1329 M63.2,1309 L63.2,1347 C63.2,1351 60,1352 58,1352 C55,1352 53.6,1350 53.6,1347 M71,1313 C72.5,1318 73.2,1323 73.2,1329" stroke-width="1.7"/>
<path d="M71.2,1303.4 C69,1307 68,1311 68,1314 C68,1316.5 69.5,1318 71.6,1318 C73.8,1318 75.2,1316.5 75.2,1314 C75.2,1311 73.5,1307 71.2,1303.4 Z" fill="#fff" stroke-width="1.6"/>
<path d="M79.2,1305.4 C78,1307.5 77.2,1309 77.2,1310.3 C77.2,1311.4 78.1,1312.2 79.2,1312.2 C80.3,1312.2 81.2,1311.4 81.2,1310.3 C81.2,1309 80.4,1307.5 79.2,1305.4 Z" fill="#fff" stroke-width="1.4"/>
<path d="M82.4,1313.8 C80.8,1316 79.6,1318.5 79.6,1320 C79.6,1321.6 80.8,1322.6 82.4,1322.6 C84,1322.6 85.3,1321.6 85.3,1320 C85.3,1318.5 84,1316 82.4,1313.8 Z" fill="#fff" stroke-width="1.4"/>
<circle cx="184" cy="1326.6" r="35.3" stroke-width="1.9"/>
<path d="M169.1,1295.5 L171,1305 L171,1314.8 L197,1314.8 L197,1305 L198.5,1295.5 M171,1305 L197,1305 M177,1294 L179.4,1305 M191.6,1294 L189.2,1305" stroke-width="1.6"/>
<path d="M173.5,1315 L173.5,1326 C173.5,1328 175,1330 178,1330 L190,1330 C193,1330 194.6,1328 194.6,1326 L194.6,1315" stroke-width="1.6"/>
<path d="M174,1319 L194,1319 M174,1321.5 L194,1321.5 M174,1324 L194,1324 M175,1326.5 L193,1326.5" stroke="#555" stroke-width="1"/>
<path d="M178,1330.5 L190,1330.5" stroke-width="2"/>
</g>
<g id="icontext" font-weight="bold" fill="#111">
<text x="184" y="1350" font-size="15" text-anchor="middle" textLength="24" lengthAdjust="spacingAndGlyphs">E27</text>
<text x="46.4" y="1383" font-size="16.5" textLength="34" lengthAdjust="spacingAndGlyphs">IP20</text>
<text x="136.4" y="1382.4" font-size="16.5" textLength="95.4" lengthAdjust="spacingAndGlyphs">Fassung E27</text>
<text x="290.8" y="1358.7" font-size="19.5" textLength="61.3" lengthAdjust="spacingAndGlyphs" stroke="#111" stroke-width="0.9">RoHS</text>
<text x="265.1" y="1382.7" font-size="13.5" textLength="103.1" lengthAdjust="spacingAndGlyphs">RoHS-Zertifikat</text>
<text x="22.2" y="1502.4" font-size="15.2" textLength="82.8" lengthAdjust="spacingAndGlyphs">MAX 60Watt</text>
<text x="127.5" y="1502.4" font-size="15.2" textLength="107.5" lengthAdjust="spacingAndGlyphs">EMC-Zertifikat</text>
<text x="158.2" y="1453.3" font-size="27" textLength="50.2" lengthAdjust="spacingAndGlyphs" stroke="#111" stroke-width="0.9">EMC</text>
</g>
<g fill="#111" stroke="none">
<path d="M287,1322.9 L303.6,1313.3 L312.6,1328.8 C320,1315 330,1300 337.2,1293 L346.8,1290.9 L346.3,1298.9 L349,1306.9 C340,1312 334,1318 328.7,1324.5 C322,1331 317,1338 313.2,1344.3 C306,1336 298,1328 287,1322.9 Z"/>
<path d="M79.5,1402.2 L47.7,1448.5 L63,1448 L48.8,1483 L80.8,1439.5 L65.5,1439.5 Z"/>
</g>
<g fill="none" stroke="#111">
<path d="M77,1417.5 A28.6,28.6 0 0 1 62,1471.5" stroke-width="2.6"/>
<path d="M52,1468.5 A28.6,28.6 0 0 1 65,1414.4" stroke-width="2.6"/>
<circle cx="182.8" cy="1443" r="30.8" stroke-width="4.3"/>
<path d="M22.8,1542.2 L47.3,1517.1 L54.1,1524 L54.1,1518.3 L59,1518.3 L59,1529.2 L71.8,1542.2 L66.9,1542.2 L66.9,1562.2 L28.7,1562.2 L28.7,1542.2 Z" stroke-width="2.2" stroke-linejoin="miter"/>
<rect x="80.6" y="1523.6" width="31.3" height="33.3" stroke="#333" stroke-width="1.8"/>
<rect x="88.4" y="1531.4" width="15.6" height="17.6" stroke="#333" stroke-width="1.8"/>
<path d="M145.2,1519 C133,1517 126,1527 126,1537 C126,1547 133,1556 145.2,1554" stroke-width="6"/>
<path d="M181.4,1519 C169,1517 163,1527 163,1537 C163,1547 169,1556 181.4,1554 M164,1537 L177.5,1537" stroke-width="6"/>
<path d="M196,1513.8 L225.4,1547 M225,1514 L196.5,1547" stroke="#555" stroke-width="1.2"/>
<path d="M203,1521 L219.5,1521 M205,1521 L207,1543 L216,1543 L218,1521 M206,1518.5 C208,1515.5 215,1515.5 217,1518.5 M210,1525 L210,1540 M213,1525 L213,1540" stroke="#555" stroke-width="1.3"/>
<circle cx="215" cy="1543" r="2.2" stroke="#555" stroke-width="1.1"/>
<rect x="199" y="1554.9" width="25.4" height="5.9" fill="#111" stroke="none"/>
<circle cx="984.2" cy="771.5" r="29" stroke="#a07070" stroke-width="1.3"/>
<path d="M969.6,747.1 L998,796.2 M994.5,747.1 L970.6,796.2" stroke="#8a7070" stroke-width="1.2"/>
<path d="M978.5,777 C977,771 972.4,769 972.4,763.5 C972.4,757 977.5,753.1 984,753.1 C990.5,753.1 995.2,757 995.2,763.5 C995.2,769 990.5,771 989.5,777" stroke="#555" stroke-width="1.5"/>
<path d="M978,777 L990,777 L990,787 C990,790 987,791.2 984,791.2 C981,791.2 978,790 978,787 Z" fill="#333" stroke="#333" stroke-width="1"/>
</g>
<g id="logo" fill="none" stroke="#e8b500" stroke-width="9.6" stroke-linecap="butt">
<path d="M820.4,40.5 L820.4,86"/>
<circle cx="835.5" cy="72.4" r="14"/>
<circle cx="876" cy="72.4" r="14"/>
<path d="M891,56 L891,91"/>
<path d="M906,91 L906,66 C906,59 910,56.5 915,56.5 C920,56.5 924.5,59 924.5,66 L924.5,91 M924.5,66 C924.5,59 929,56.5 934,56.5 C939,56.5 943.3,59 943.3,66 L943.3,91"/>
<path d="M960.5,54 L960.5,72 C960.5,82 965,87 975.5,87 C986,87 990.8,82 990.8,72 L990.8,54 M990.8,70 L990.8,84 C990.8,96 985,100 975,99"/>
<path d="M1006.6,54 L1006.6,72 C1006.6,82 1011,87 1018.6,87 C1026,87 1030.7,82 1030.7,72 L1030.7,54 M1030.7,70 L1030.7,91"/>
<path d="M1045.2,91 L1045.2,66 C1045.2,59 1049,56.5 1053.5,56.5 C1058,56.5 1062.2,59 1062.2,66 L1062.2,91 M1062.2,66 C1062.2,59 1066,56.5 1070.5,56.5 C1075,56.5 1076.2,59 1076.2,66 L1076.2,91"/>
</g>
<g fill="#fff"><circle cx="862.5" cy="65" r="1.6"/><circle cx="862" cy="72.4" r="1.6"/><circle cx="862.5" cy="80" r="1.6"/></g>
</svg>
</body></html>
